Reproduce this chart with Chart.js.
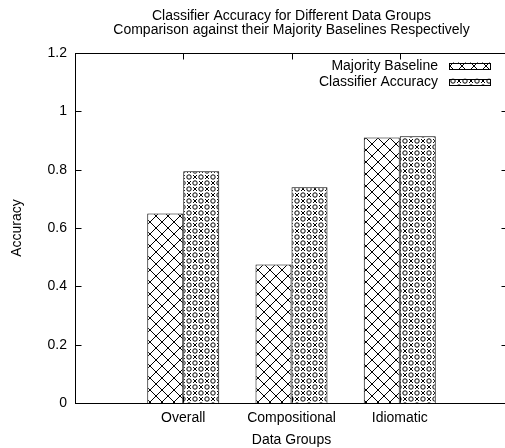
<!DOCTYPE html>
<html>
<head>
<meta charset="utf-8">
<script src="https://cdn.jsdelivr.net/npm/chart.js@4"></script>
<style>
  html, body { margin: 0; padding: 0; background: #fff; overflow: hidden; }
  #wrap { width: 505px; height: 448px; overflow: hidden; }
</style>
</head>
<body>
<div id="wrap"><canvas id="accChart" width="525" height="448"></canvas></div>
<script>
// data
const categories = ["Overall", "Compositional", "Idiomatic"];
const majorityBaseline = [0.65, 0.475, 0.91];
const classifierAccuracy = [0.795, 0.74, 0.915];
const yTicks = [0, 0.2, 0.4, 0.6, 0.8, 1, 1.2];
const titleLines = ["Classifier Accuracy for Different Data Groups",
                    "Comparison against their Majority Baselines Respectively"];

Chart.defaults.font.family = "'Liberation Sans', Arial, sans-serif";
Chart.defaults.font.size = 14;
Chart.defaults.color = "#000";

// gnuplot has an empty slot each side, so pad the category list
const labels = ["", ...categories, ""];
const pad = arr => [null, ...arr, null];

// the plot frame runs just past the right edge of the window
const plotRight = 508;

function makeCrosshatch() {
    const c = document.createElement("canvas");
    c.width = 12; c.height = 12;
    const g = c.getContext("2d");
    g.fillStyle = "#fff";
    g.fillRect(0, 0, 12, 12);
    g.strokeStyle = "#000";
    g.lineWidth = 1;
    g.beginPath();
    g.moveTo(0, 0); g.lineTo(12, 12);
    g.moveTo(12, 0); g.lineTo(0, 12);
    g.stroke();
    return c;
}

function makeCircles() {
    const c = document.createElement("canvas");
    c.width = 12; c.height = 12;
    const g = c.getContext("2d");
    g.fillStyle = "#fff";
    g.fillRect(0, 0, 12, 12);
    g.strokeStyle = "#000";
    g.fillStyle = "#000";
    g.lineWidth = 1;
    // little hollow rings
    [[3, 3], [9, 9]].forEach(([x, y]) => {
        g.beginPath();
        g.arc(x, y, 2.2, 0, Math.PI * 2);
        g.stroke();
    });
    // dark crosses between them
    [[9, 3], [3, 9]].forEach(([x, y]) => {
        g.beginPath();
        g.moveTo(x - 2, y - 2); g.lineTo(x + 2, y + 2);
        g.moveTo(x + 2, y - 2); g.lineTo(x - 2, y + 2);
        g.stroke();
        g.fillRect(x - 1, y - 1, 2, 2);
    });
    return c;
}

const ctx = document.getElementById("accChart").getContext("2d");
const hatchA = ctx.createPattern(makeCrosshatch(), "repeat");
const hatchB = ctx.createPattern(makeCircles(), "repeat");

// frame, inward ticks, legend and title like gnuplot
const gnuplotBits = {
    id: "gnuplotBits",
    afterDraw(chart) {
        const { ctx, chartArea: a, scales } = chart;
        const L = Math.round(a.left) + 0.5, R = Math.round(a.right) - 0.5;
        const T = Math.round(a.top) + 0.5, B = Math.round(a.bottom) - 0.5;
        ctx.save();
        ctx.strokeStyle = "#000";
        ctx.lineWidth = 1;
        ctx.beginPath();
        ctx.moveTo(L, T); ctx.lineTo(R, T);
        ctx.moveTo(R, T); ctx.lineTo(R, B);
        yTicks.forEach(v => {
            const y = Math.round(scales.y.getPixelForValue(v)) + 0.5;
            ctx.moveTo(L, y); ctx.lineTo(L + 6, y);
            ctx.moveTo(R, y); ctx.lineTo(R - 6, y);
        });
        categories.forEach((c, i) => {
            const x = Math.round(scales.x.getPixelForValue(i + 1)) + 0.5;
            ctx.moveTo(x, T); ctx.lineTo(x, T + 6);
            ctx.moveTo(x, B); ctx.lineTo(x, B - 6);
        });
        ctx.stroke();

        // legend, text right aligned with sample box on the right
        ctx.font = "14px 'Liberation Sans', Arial, sans-serif";
        ctx.fillStyle = "#000";
        ctx.textAlign = "right";
        ctx.textBaseline = "middle";
        chart.data.datasets.forEach((ds, i) => {
            const y = a.top + 13 + i * 16;
            ctx.fillText(ds.label, a.right - 70, y);
            ctx.fillStyle = ds.backgroundColor;
            ctx.fillRect(a.right - 59, y - 3.5, 42, 7);
            ctx.strokeRect(a.right - 59 + 0.5, Math.round(y - 3.5) + 0.5, 41, 6);
            ctx.fillStyle = "#000";
        });

        // title centred over the plot
        ctx.textAlign = "center";
        const cx = (a.left + a.right) / 2;
        titleLines.forEach((t, i) => ctx.fillText(t, cx, 16 + i * 14));
        ctx.restore();
    }
};

const chart = new Chart(ctx, {
    type: "bar",
    data: {
        labels: labels,
        datasets: [{
            label: "Majority Baseline",
            data: pad(majorityBaseline),
            backgroundColor: hatchA,
            borderColor: "#000",
            borderWidth: 1
        }, {
            label: "Classifier Accuracy",
            data: pad(classifierAccuracy),
            backgroundColor: hatchB,
            borderColor: "#000",
            borderWidth: 1
        }]
    },
    options: {
        responsive: false,
        animation: false,
        events: [],
        categoryPercentage: 0.665,
        barPercentage: 1,
        layout: { padding: { top: 53, right: 17, left: 0, bottom: 0 } },
        plugins: {
            legend: { display: false },
            title: { display: false },
            tooltip: { enabled: false }
        },
        scales: {
            x: {
                offset: false,
                grid: { display: false, drawTicks: false },
                border: { display: true, color: "#000", width: 1 },
                ticks: { padding: 7, maxRotation: 0, autoSkip: false },
                title: { display: true, text: "Data Groups", padding: { top: 0, bottom: -1 } },
                afterFit: s => { s.height = 45; }
            },
            y: {
                min: 0,
                max: 1.2,
                grid: { display: false, drawTicks: false },
                border: { display: true, color: "#000", width: 1 },
                ticks: {
                    stepSize: 0.2,
                    padding: 8,
                    callback: v => String(+v.toFixed(1))
                },
                title: { display: true, text: "Accuracy", padding: { top: 9, bottom: 0 } },
                afterFit: s => { s.width = 75; }
            }
        }
    },
    plugins: [gnuplotBits]
});

// nudge the right padding if the scale kept some room of its own
const off = chart.chartArea.right - plotRight;
if (Math.abs(off) > 0.5) {
    chart.options.layout.padding.right = Math.max(0, 17 + off);
    chart.update();
}
</script>
</body>
</html>
